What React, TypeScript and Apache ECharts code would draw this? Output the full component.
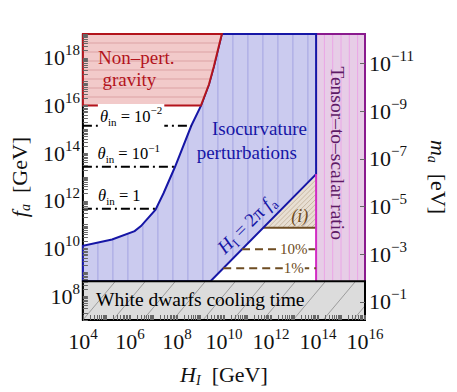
import React, { useEffect, useRef } from "react";
import * as echarts from "echarts";

// ---------- data (all values are log10 of the physical quantity) ----------
const xMinLog = 4;
const xMaxLog = 16;
const yMinLog = 7;
const yMaxLog = 19;
const xTickLabels = [4, 6, 8, 10, 12, 14, 16];
const yTickLabels = [8, 10, 12, 14, 16, 18];
const massTickExponents = [-11, -9, -7, -5, -3, -1];
const massOffsetLog = 6.76; // log10(m_a/eV) = 6.76 - log10(f_a/GeV)

// Non-perturbative gravity boundary
const gravityMinLogF = 16.0;
const gravityCurveLogH = [9.02, 9.36, 9.57, 9.91];
const gravityCurveLogF = [16.0, 16.88, 17.64, 19.0];

// Isocurvature boundary
const isoCurveLogH = [4.0, 5.24, 6.2, 6.47, 7.09, 7.43, 7.92, 8.61, 9.02];
const isoCurveLogF = [10.11, 10.38, 10.73, 10.94, 11.63, 12.32, 13.43, 15.15, 15.98];

// Other bounds
const tensorLimitLogH = 13.92;
const whiteDwarfLogF = 8.63;
const twoPiLog = Math.log10(2 * Math.PI);
const regionILogF = 10.87;
const fractionLabels = ["10%", "1%"];
const fractionLogF = [9.97, 9.17];
const thetaExponents = [0, -1, -2];
const thetaLogF = [11.67, 13.43, 15.15];

// ---------- styling ----------
const SERIF = "Liberation Serif";
const RED = "#b3141c";
const RED_FILL = "#f2caca";
const RED_HATCH = "#dca2a4";
const BLUE = "#1616a6";
const BLUE_FILL = "#cbcbef";
const BLUE_HATCH = "#a4a4e2";
const PINK_FILL = "#e7cde7";
const PINK_HATCH = "#eaa6e6";
const PURPLE = "#8a1a8e";
const MAGENTA = "#d22cc4";
const BEIGE = "#e8dfd3";
const BEIGE_HATCH = "#c9b8a3";
const BROWN = "#6e4c22";
const GREY_FILL = "#dcdcdc";
const GREY_HATCH = "#9c9c9c";

type P = number[];

function hatch(poly: P[], angleDeg: number, spacing: number, origin: P) {
  const a = (angleDeg * Math.PI) / 180;
  const d = [Math.cos(a), -Math.sin(a)];
  const n = [-d[1], d[0]];
  const proj = poly.map((p) => (p[0] - origin[0]) * n[0] + (p[1] - origin[1]) * n[1]);
  const lo = Math.min(...proj);
  const hi = Math.max(...proj);
  const segs: P[][] = [];
  for (let k = Math.ceil(lo / spacing); k * spacing <= hi; k++) {
    const c = k * spacing;
    const pts: number[][] = [];
    for (let i = 0; i < poly.length; i++) {
      const j = (i + 1) % poly.length;
      const pi = proj[i] - c;
      const pj = proj[j] - c;
      if ((pi < 0 && pj >= 0) || (pi >= 0 && pj < 0)) {
        const t = pi / (pi - pj);
        const x = poly[i][0] + t * (poly[j][0] - poly[i][0]);
        const y = poly[i][1] + t * (poly[j][1] - poly[i][1]);
        pts.push([x, y, x * d[0] + y * d[1]]);
      }
    }
    pts.sort((u, v) => u[2] - v[2]);
    for (let m = 0; m + 1 < pts.length; m += 2) segs.push([pts[m], pts[m + 1]]);
  }
  return segs;
}

function hatchLines(poly: P[], angle: number, spacing: number, origin: P, color: string) {
  return hatch(poly, angle, spacing, origin).map((s) => ({
    type: "line",
    shape: { x1: s[0][0], y1: s[0][1], x2: s[1][0], y2: s[1][1] },
    style: { stroke: color, lineWidth: 1 },
    silent: true,
  }));
}

function zip(xs: number[], ys: number[]): P[] {
  return xs.map((x, i) => [x, ys[i]]);
}

// invert the isocurvature curve: logH where the curve reaches logF
function isoLogHAt(logF: number) {
  for (let i = 0; i + 1 < isoCurveLogF.length; i++) {
    const f0 = isoCurveLogF[i];
    const f1 = isoCurveLogF[i + 1];
    if (logF >= f0 && logF <= f1) {
      const t = (logF - f0) / (f1 - f0);
      return isoCurveLogH[i] + t * (isoCurveLogH[i + 1] - isoCurveLogH[i]);
    }
  }
  return isoCurveLogH[0];
}

function layer(name: string, z: number, build: (c: (p: P) => P) => any[]) {
  return {
    type: "custom",
    name,
    coordinateSystem: "cartesian2d",
    data: [[xMinLog, yMinLog]],
    z,
    silent: true,
    clip: false,
    renderItem: (_params: any, api: any) => {
      const c = (p: P) => api.coord(p) as P;
      return { type: "group", children: build(c) };
    },
  };
}

function txt(
  pos: P,
  text: string,
  opts: { size?: number; color?: string; italic?: boolean; rotation?: number; rich?: any; bg?: string; padding?: number[] }
) {
  const size = opts.size || 19;
  return {
    type: "text",
    x: pos[0],
    y: pos[1],
    rotation: opts.rotation || 0,
    silent: true,
    style: {
      text,
      fill: opts.color || "#000",
      fontSize: size,
      fontFamily: SERIF,
      fontStyle: opts.italic ? "italic" : "normal",
      align: "center",
      verticalAlign: "middle",
      rich: opts.rich,
      backgroundColor: opts.bg,
      padding: opts.padding,
    },
  };
}

function buildOption() {
  const diagTopLogF = tensorLimitLogH - twoPiLog;
  const diagBottomLogH = whiteDwarfLogF + twoPiLog;

  const isoPts = zip(isoCurveLogH, isoCurveLogF);
  const gravPts = zip(gravityCurveLogH, gravityCurveLogF);

  const frame = layer("frame", 1, (c) => [
    {
      type: "polyline",
      shape: { points: [c([xMinLog, yMinLog]), c([xMinLog, yMaxLog])] },
      style: { stroke: "#000", lineWidth: 2, fill: null },
    },
  ]);

  const tensor = layer("tensor", 2, (c) => {
    const poly = [
      c([tensorLimitLogH, whiteDwarfLogF]),
      c([tensorLimitLogH, yMaxLog]),
      c([xMaxLog, yMaxLog]),
      c([xMaxLog, whiteDwarfLogF]),
    ];
    return [
      { type: "polygon", shape: { points: poly }, style: { fill: PINK_FILL } },
      ...hatchLines(poly, 90, 8.3, poly[0], PINK_HATCH),
      {
        type: "polyline",
        shape: { points: [poly[1], poly[2], poly[3]] },
        style: { stroke: PURPLE, lineWidth: 2, fill: null },
      },
    ];
  });

  const regionI = layer("regionI", 3, (c) => {
    const poly = [
      c([regionILogF + twoPiLog, regionILogF]),
      c([tensorLimitLogH, regionILogF]),
      c([tensorLimitLogH, diagTopLogF]),
    ];
    return [
      { type: "polygon", shape: { points: poly }, style: { fill: BEIGE } },
      ...hatchLines(poly, 45, 3.4, poly[0], BEIGE_HATCH),
      {
        type: "polyline",
        shape: { points: [poly[0], poly[1]] },
        style: { stroke: BROWN, lineWidth: 2, fill: null },
      },
    ];
  });

  const iso = layer("iso", 4, (c) => {
    const dataPoly: P[] = [
      [xMinLog, whiteDwarfLogF],
      ...isoPts,
      ...gravPts.slice(1),
      [tensorLimitLogH, yMaxLog],
      [tensorLimitLogH, diagTopLogF],
      [diagBottomLogH, whiteDwarfLogF],
    ];
    const poly = dataPoly.map(c);
    return [
      { type: "polygon", shape: { points: poly }, style: { fill: BLUE_FILL } },
      ...hatchLines(poly, 90, 15, c([xMinLog, yMinLog]), BLUE_HATCH),
      { type: "polygon", shape: { points: poly }, style: { fill: null, stroke: BLUE, lineWidth: 2 } },
    ];
  });

  const gravity = layer("gravity", 5, (c) => {
    const dataPoly: P[] = [[xMinLog, gravityMinLogF], ...gravPts, [xMinLog, yMaxLog]];
    const poly = dataPoly.map(c);
    return [
      { type: "polygon", shape: { points: poly }, style: { fill: RED_FILL } },
      ...hatchLines(poly, 0, 9, c([xMinLog, yMaxLog]), RED_HATCH),
      { type: "polygon", shape: { points: poly }, style: { fill: null, stroke: RED, lineWidth: 2 } },
    ];
  });

  const edges = layer("edges", 6, (c) => {
    const out: any[] = [
      {
        type: "polyline",
        shape: { points: [c([tensorLimitLogH, whiteDwarfLogF]), c([tensorLimitLogH, diagTopLogF])] },
        style: { stroke: MAGENTA, lineWidth: 2, fill: null },
      },
    ];
    fractionLogF.forEach((f) => {
      out.push({
        type: "polyline",
        shape: { points: [c([f + twoPiLog, f]), c([tensorLimitLogH, f])] },
        style: { stroke: BROWN, lineWidth: 2, fill: null, lineDash: [8, 5] },
      });
    });
    thetaLogF.forEach((f) => {
      out.push({
        type: "polyline",
        shape: { points: [c([xMinLog, f]), c([isoLogHAt(f), f])] },
        style: { stroke: "#000", lineWidth: 2, fill: null, lineDash: [9, 4, 2, 4] },
      });
    });
    return out;
  });

  const whiteDwarf = layer("whiteDwarf", 7, (c) => {
    const poly = [
      c([xMinLog, yMinLog]),
      c([xMinLog, whiteDwarfLogF]),
      c([xMaxLog, whiteDwarfLogF]),
      c([xMaxLog, yMinLog]),
    ];
    return [
      { type: "polygon", shape: { points: poly }, style: { fill: GREY_FILL } },
      ...hatchLines(poly, 50, 23, poly[0], GREY_HATCH),
      { type: "polygon", shape: { points: poly }, style: { fill: null, stroke: "#000", lineWidth: 2 } },
    ];
  });

  const subSup = (size: number, color: string) => {
    const small = Math.round(size * 0.68);
    return {
      n: { fontSize: size, fontFamily: SERIF, fill: color, lineHeight: size + 6 },
      i: { fontSize: size, fontFamily: SERIF, fontStyle: "italic", fill: color, lineHeight: size + 6 },
      sub: { fontSize: small, fontFamily: SERIF, fill: color, verticalAlign: "bottom", lineHeight: small },
      sup: { fontSize: small, fontFamily: SERIF, fill: color, verticalAlign: "top", lineHeight: small },
    };
  };

  const labels = layer("labels", 8, (c) => {
    const out: any[] = [
      txt(c([6.27, 18.0]), "Non\u2013pert.", { color: RED }),
      txt(c([5.98, 17.09]), "gravity", { color: RED }),
      txt(c([11.51, 15.02]), "Isocurvature", { color: BLUE }),
      txt(c([10.97, 14.02]), "perturbations", { color: BLUE }),
      txt(c([10.95, 11.02]), "{i|H}{sub|I}{n| = 2\u03c0 }{i|f}{sub|a}", {
        color: BLUE,
        rotation: Math.PI / 4,
        rich: subSup(19, BLUE),
      }),
      txt(c([14.85, 14.0]), "Tensor\u2013to\u2013scalar ratio", { color: "#5e1a66", rotation: -Math.PI / 2, size: 19.5 }),
      txt(c([13.22, 11.38]), "(i)", { color: BROWN, italic: true, size: 18 }),
      txt(c([8.99, 7.84]), "White dwarfs cooling time", { color: "#000", size: 19.5 }),
    ];
    fractionLabels.forEach((lab, k) => {
      out.push(txt(c([12.97, fractionLogF[k]]), lab, { color: BROWN, size: 15, bg: "#fff", padding: [2, 1, 2, 1] }));
    });
    const thetaPos: P[] = [
      [5.55, 12.24],
      [5.95, 13.98],
      [6.05, 15.47],
    ];
    thetaExponents.forEach((e, k) => {
      const text =
        e === 0
          ? "{i|\u03b8}{sub|in}{n| = 1}"
          : `{i|\u03b8}{sub|in}{n| = 10}{sup|${e < 0 ? "\u2212" : ""}${Math.abs(e)}}`;
      out.push(
        txt(c(thetaPos[k]), text, {
          size: 16.5,
          rich: subSup(16.5, "#000"),
          bg: k === 2 ? "#fff" : undefined,
          padding: k === 2 ? [1, 2, 5, 2] : undefined,
        })
      );
    });
    return out;
  });

  const tickRich = {
    b: { fontSize: 22, fontFamily: SERIF, color: "#111", lineHeight: 30 },
    s: { fontSize: 15, fontFamily: SERIF, color: "#111", verticalAlign: "top", lineHeight: 15 },
  };
  const nameRich = {
    n: { fontSize: 22, fontFamily: SERIF, color: "#111", lineHeight: 26 },
    i: { fontSize: 22, fontFamily: SERIF, color: "#111", fontStyle: "italic", lineHeight: 26 },
    sub: { fontSize: 14, fontFamily: SERIF, color: "#111", fontStyle: "italic", verticalAlign: "bottom", lineHeight: 14 },
  };

  const logMinor = (lo: number, hi: number) => {
    const v: number[] = [];
    for (let n = Math.floor(lo); n <= hi; n++) {
      for (let k = 1; k <= 9; k++) {
        const t = n + Math.log10(k);
        if (t >= lo - 1e-9 && t <= hi + 1e-9) v.push(t);
      }
    }
    return v;
  };

  const tickStyle = { color: "#666", width: 1 };
  const exp = (v: number) => {
    const r = Math.round(v);
    return r < 0 ? "\u2212" + Math.abs(r) : String(r);
  };

  return {
    animation: false,
    backgroundColor: "#fff",
    textStyle: { fontFamily: SERIF },
    grid: { left: 80, right: 86, top: 34, bottom: 69, containLabel: false },
    xAxis: {
      type: "value",
      min: xMinLog,
      max: xMaxLog,
      interval: 2,
      z: 10,
      axisLine: { show: false },
      splitLine: { show: false },
      axisTick: { show: true, inside: true, length: 5, customValues: logMinor(xMinLog, xMaxLog), lineStyle: tickStyle },
      axisLabel: {
        customValues: xTickLabels,
        margin: 6,
        fontFamily: SERIF,
        formatter: (v: number) => `{b|10}{s|${exp(v)}}`,
        rich: tickRich,
      },
      name: "{i|H}{sub|I}{n|  [GeV]}",
      nameLocation: "middle",
      nameGap: 41,
      nameTextStyle: { fontFamily: SERIF, rich: nameRich },
    },
    yAxis: [
      {
        type: "value",
        min: yMinLog,
        max: yMaxLog,
        position: "left",
        z: 10,
        axisLine: { show: false },
        splitLine: { show: false },
        axisTick: { show: true, inside: true, length: 5, customValues: logMinor(yMinLog, yMaxLog), lineStyle: tickStyle },
        axisLabel: {
          customValues: yTickLabels,
          margin: 3,
          fontFamily: SERIF,
          formatter: (v: number) => `{b|10}{s|${exp(v)}}`,
          rich: tickRich,
        },
        name: "{i|f}{sub|a}{n|  [GeV]}",
        nameLocation: "middle",
        nameGap: 50,
        nameRotate: 90,
        nameTextStyle: { fontFamily: SERIF, rich: nameRich },
      },
      {
        type: "value",
        min: yMinLog,
        max: yMaxLog,
        position: "right",
        z: 10,
        axisLine: { show: false },
        splitLine: { show: false },
        axisTick: {
          show: true,
          inside: true,
          length: 5,
          customValues: massTickExponents.map((m) => massOffsetLog - m),
          lineStyle: tickStyle,
        },
        axisLabel: {
          customValues: massTickExponents.map((m) => massOffsetLog - m),
          margin: 4,
          fontFamily: SERIF,
          formatter: (v: number) => `{b|10}{s|${exp(massOffsetLog - v)}}`,
          rich: tickRich,
        },
        name: "{i|m}{sub|a}{n|  [eV]}",
        nameLocation: "middle",
        nameGap: 60,
        nameRotate: -90,
        nameTextStyle: { fontFamily: SERIF, rich: nameRich },
      },
    ],
    series: [frame, tensor, regionI, iso, gravity, edges, whiteDwarf, labels],
  };
}

export default function App() {
  const ref = useRef<HTMLDivElement>(null);
  useEffect(() => {
    if (!ref.current) return;
    const chart = echarts.init(ref.current, null, { renderer: "svg" });
    chart.setOption(buildOption() as any);
    return () => chart.dispose();
  }, []);
  return (
    <div
      ref={ref}
      style={{ position: "fixed", left: 0, top: 0, width: 457, height: 392, background: "#fff" }}
    />
  );
}
